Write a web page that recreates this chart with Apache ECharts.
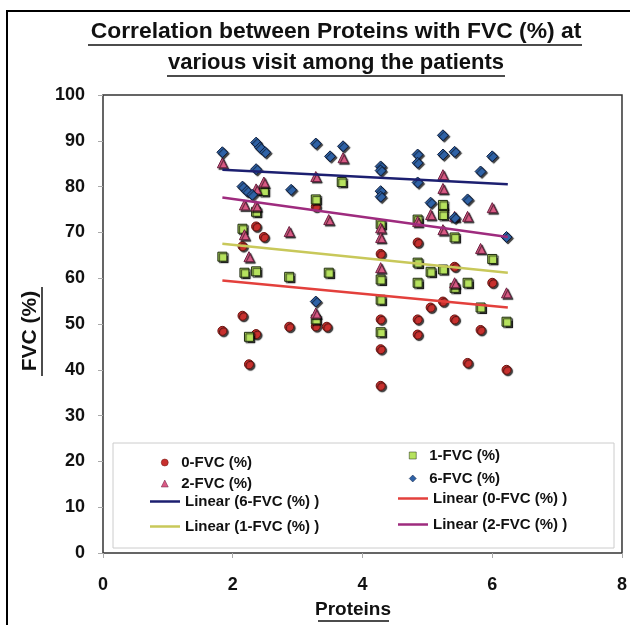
<!DOCTYPE html>
<html>
<head>
<meta charset="utf-8">
<script src="https://cdn.jsdelivr.net/npm/echarts@6/dist/echarts.min.js"></script>
<style>
    *{ margin:0; padding:0; }
    body{ background:#fff; }
    #chart{ width:630px; height:625px; }
</style>
</head>
<body>
<div id="chart"></div>
<script type="text/javascript">
// visit 0
var visit0X = [1.84, 2.15, 2.15, 2.25, 2.36, 2.36, 2.48, 2.87, 3.28, 3.28, 3.45, 4.28, 4.28, 4.28, 4.28, 4.85, 4.85, 4.85, 5.05, 5.24, 5.24, 5.42, 5.42, 5.62, 5.82, 6.0, 6.22];
var visit0Y = [48.5, 51.8, 67.0, 41.2, 71.3, 47.8, 69.0, 49.4, 75.6, 49.5, 49.4, 65.3, 51.0, 44.5, 36.5, 67.8, 51.0, 47.7, 53.6, 54.9, 75.0, 62.5, 51.0, 41.5, 48.7, 59.0, 40.0];
// visit 1
var visit1X = [1.84, 2.15, 2.18, 2.25, 2.36, 2.36, 2.48, 2.87, 3.28, 3.28, 3.48, 3.68, 4.28, 4.28, 4.28, 4.28, 4.85, 4.85, 4.85, 5.05, 5.24, 5.24, 5.24, 5.42, 5.42, 5.62, 5.82, 6.0, 6.22];
var visit1Y = [64.7, 70.8, 61.2, 47.2, 74.5, 61.5, 79.0, 60.3, 77.2, 51.0, 61.2, 81.0, 71.8, 59.7, 55.3, 48.2, 72.8, 63.4, 59.0, 61.4, 76.0, 73.8, 61.9, 68.9, 57.9, 59.0, 53.6, 64.2, 50.5];
// visit 2
var visit2X = [1.84, 2.18, 2.18, 2.25, 2.36, 2.36, 2.48, 2.87, 3.28, 3.28, 3.48, 3.70, 4.28, 4.28, 4.28, 4.85, 5.05, 5.24, 5.24, 5.24, 5.42, 5.42, 5.62, 5.82, 6.0, 6.22];
var visit2Y = [85.2, 76.0, 69.5, 64.7, 79.5, 75.8, 81.0, 70.2, 82.2, 52.4, 72.8, 86.3, 71.0, 68.9, 62.3, 72.4, 73.9, 82.6, 79.6, 70.6, 73.5, 59.0, 73.5, 66.5, 75.4, 56.8];
// visit 6
var visit6X = [1.84, 2.15, 2.22, 2.30, 2.36, 2.42, 2.50, 2.36, 2.90, 3.28, 3.28, 3.50, 3.70, 4.28, 4.28, 4.28, 4.28, 4.85, 4.85, 4.85, 5.05, 5.24, 5.24, 5.42, 5.42, 5.62, 5.82, 6.0, 6.22];
var visit6Y = [87.5, 80.0, 79.0, 78.2, 89.6, 88.5, 87.5, 83.8, 79.3, 89.4, 54.9, 86.6, 88.8, 84.4, 83.5, 79.0, 77.8, 87.0, 85.2, 80.9, 76.5, 91.2, 87.0, 87.6, 73.2, 77.2, 83.3, 86.6, 69.0];
// trend lines (ends)
var trendX = [1.84, 6.24];
var trend0 = [59.5, 53.6];
var trend1 = [67.5, 61.2];
var trend2 = [77.6, 69.0];
var trend6 = [83.7, 80.5];
var xTicks = [0, 2, 4, 6, 8];

function pairs(xs, ys){
    return xs.map(function(x, i){ return [x, ys[i]]; });
}

var FONT = '"Liberation Sans", Arial, sans-serif';
var shadow = { shadowColor:'rgba(0,0,0,0.75)', shadowOffsetX:1.5, shadowOffsetY:1.5, shadowBlur:1 };

function scatter(name, xs, ys, symbol, size, color, border){
    return {
        name: name, type:'scatter', symbol: symbol, symbolSize: size,
        data: pairs(xs, ys),
        itemStyle: Object.assign({ color: color, borderColor: border, borderWidth: 1, opacity: 1 }, shadow)
    };
}
function trend(name, ys, color){
    return {
        name: name, type:'line', symbol:'none', z: 3,
        data: pairs(trendX, ys),
        lineStyle: { color: color, width: 2.5 },
        itemStyle: { color: color }
    };
}
var legText = { fontFamily: FONT, fontWeight:'bold', fontSize: 15, color:'#111' };
var noShadow = { shadowColor:'transparent', shadowBlur:0, shadowOffsetX:0, shadowOffsetY:0, borderWidth:0.5 };
// marker legend entry: small icon, text pushed right
function legMark(name, left, top){
    return {
        data: [name], left: left, top: top, itemWidth: 7, itemHeight: 7,
        padding: 0, selectedMode: false, itemStyle: noShadow,
        textStyle: Object.assign({ padding: [0, 0, 0, 8] }, legText)
    };
}
// trend line legend entry
function legLine(name, left, top){
    return {
        data: [{ name: name, icon: 'rect' }], left: left, top: top, itemWidth: 30, itemHeight: 2.5,
        padding: 0, selectedMode: false, itemStyle: { borderWidth: 0 },
        textStyle: legText
    };
}

var myChart = echarts.init(document.getElementById('chart'));
var option = {
    backgroundColor: '#fff',
    animation: false,
    grid: { left: 103, top: 95, right: 5, bottom: 72, show: true, borderColor: '#333', borderWidth: 1.5 },
    xAxis: {
        type:'value', min: 0, max: 8, interval: 2,
        axisLine: { show:false },
        axisTick: { show:true, length: 5, lineStyle:{ color:'#aaa' } },
        splitLine: { show:false },
        axisLabel: { margin: 23, fontFamily: FONT, fontWeight:'bold', fontSize: 18, color:'#111',
            formatter: function(v){ return xTicks.indexOf(v) >= 0 ? String(v) : ''; } }
    },
    yAxis: {
        type:'value', min: 0, max: 100, interval: 10,
        axisLine: { show:false },
        axisTick: { show:true, length: 5, lineStyle:{ color:'#aaa' } },
        splitLine: { show:false },
        axisLabel: { margin: 18, fontFamily: FONT, fontWeight:'bold', fontSize: 18, color:'#111' }
    },
    legend: [
        legMark('0-FVC (%)', 161, 455),
        legMark('2-FVC (%)', 161, 476),
        legLine('Linear (6-FVC (%) )', 150, 494),
        legLine('Linear (1-FVC (%) )', 150, 519),
        legMark('1-FVC (%)', 409, 448),
        legMark('6-FVC (%)', 409, 471),
        legLine('Linear (0-FVC (%) )', 398, 491),
        legLine('Linear (2-FVC (%) )', 398, 517)
    ],
    graphic: [
        { type:'rect', shape:{ x:7, y:11, width:640, height:640 }, style:{ fill:'none', stroke:'#000', lineWidth:2 }, silent:true },
        { type:'rect', shape:{ x:113, y:443, width:501, height:105 }, style:{ fill:'#fff', stroke:'#ccc', lineWidth:1 }, z:-1, silent:true },
        { type:'text', x:336, y:32, scaleX:1.04, style:{ text:'Correlation between Proteins with FVC (%) at', font:'bold 22px ' + FONT, fill:'#111', textAlign:'center', textVerticalAlign:'middle' } },
        { type:'line', shape:{ x1:88, y1:45, x2:582, y2:45 }, style:{ stroke:'#111', lineWidth:1.5 } },
        { type:'text', x:336, y:63, style:{ text:'various visit among the patients', font:'bold 22px ' + FONT, fill:'#111', textAlign:'center', textVerticalAlign:'middle' } },
        { type:'line', shape:{ x1:167, y1:76, x2:505, y2:76 }, style:{ stroke:'#111', lineWidth:1.5 } },
        { type:'text', x:353, y:610, style:{ text:'Proteins', font:'bold 19px ' + FONT, fill:'#111', textAlign:'center', textVerticalAlign:'middle' } },
        { type:'line', shape:{ x1:318, y1:621, x2:389, y2:621 }, style:{ stroke:'#111', lineWidth:1.5 } },
        { type:'text', x:30, y:331, rotation: Math.PI/2, style:{ text:'FVC (%)', font:'bold 21px ' + FONT, fill:'#111', textAlign:'center', textVerticalAlign:'middle' } },
        { type:'line', shape:{ x1:42, y1:287, x2:42, y2:376 }, style:{ stroke:'#111', lineWidth:1.5 } }
    ],
    series: [
        scatter('0-FVC (%)', visit0X, visit0Y, 'circle', 9, '#c8302e', '#6a1410'),
        scatter('1-FVC (%)', visit1X, visit1Y, 'rect', 9, '#b6e25e', '#1e2a10'),
        scatter('2-FVC (%)', visit2X, visit2Y, 'triangle', 10, '#d95a84', '#6a2040'),
        scatter('6-FVC (%)', visit6X, visit6Y, 'diamond', 11, '#2f62a6', '#0e1e3e'),
        trend('Linear (6-FVC (%) )', trend6, '#1c1f70'),
        trend('Linear (0-FVC (%) )', trend0, '#e3403c'),
        trend('Linear (1-FVC (%) )', trend1, '#c8c85a'),
        trend('Linear (2-FVC (%) )', trend2, '#9e2b7e')
    ]
};
myChart.setOption(option);
</script>
</body>
</html>
